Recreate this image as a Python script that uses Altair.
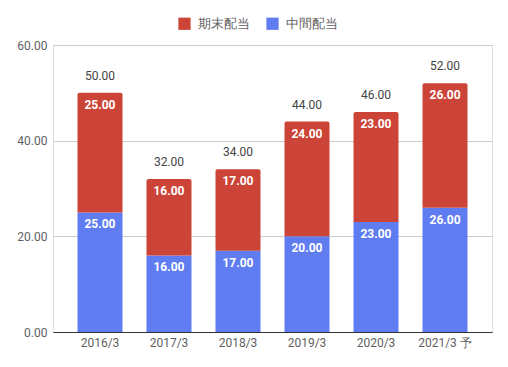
import altair as alt
import pandas as pd

years = ["2016/3", "2017/3", "2018/3", "2019/3", "2020/3", "2021/3 予"]
interim = [25.0, 16.0, 17.0, 20.0, 23.0, 26.0]   # 中間配当
final = [25.0, 16.0, 17.0, 24.0, 23.0, 26.0]     # 期末配当
total = [50.0, 32.0, 34.0, 44.0, 46.0, 52.0]

df = pd.DataFrame({"year": years, "interim": interim, "final": final, "total": total})

FONT = "Roboto"
RED = "#cc4437"
BLUE = "#5f7cf0"

x = alt.X("year:N", sort=years, title=None,
          scale=alt.Scale(paddingInner=0.348, paddingOuter=0.355),
          axis=alt.Axis(labelAngle=0, ticks=False, domain=True, domainColor="#333333",
                        grid=False,
                        labelColor="#5f5f5f", labelFontSize=12, labelFont=FONT, labelPadding=5))

yscale = alt.Scale(domain=[0, 60], nice=False)
yaxis = alt.Axis(values=[0, 20, 40, 60], format=".2f", ticks=False, domain=False,
                 labelColor="#5f5f5f", labelFontSize=12, labelFont=FONT, labelPadding=6,
                 gridColor="#cccccc")

color = alt.Scale(domain=["期末配当", "中間配当"], range=[RED, BLUE])
legend = alt.Legend(title=None, orient="none", legendX=125, legendY=-28, direction="horizontal",
                    symbolType="square", symbolSize=150, symbolStrokeWidth=0, labelFont=FONT,
                    labelFontSize=13, labelColor="#5f5f5f", columnPadding=16, labelOffset=7)

base = alt.Chart(df)

blue = base.mark_bar().transform_calculate(series="'中間配当'").encode(
    x=x,
    y=alt.Y("interim:Q", scale=yscale, axis=yaxis, title=None),
    y2=alt.Y2(datum=0),
    color=alt.Color("series:N", scale=color, legend=legend),
)
red = base.mark_bar(cornerRadiusTopLeft=2, cornerRadiusTopRight=2).transform_calculate(
    series="'期末配当'").encode(
    x=x,
    y=alt.Y("interim:Q"),
    y2=alt.Y2("total:Q"),
    color=alt.Color("series:N", scale=color, legend=legend),
)
lab_blue = base.mark_text(color="white", fontWeight="bold", fontSize=12, font=FONT,
                          baseline="middle", dy=12).encode(
    x=x, y=alt.Y("interim:Q"), text=alt.Text("interim:Q", format=".2f"))
lab_red = base.mark_text(color="white", fontWeight="bold", fontSize=12, font=FONT,
                         baseline="middle", dy=12).encode(
    x=x, y=alt.Y("total:Q"), text=alt.Text("final:Q", format=".2f"))
lab_tot = base.mark_text(color="#444444", fontSize=12, font=FONT,
                         baseline="middle", dy=-17).encode(
    x=x, y=alt.Y("total:Q"), text=alt.Text("total:Q", format=".2f"))

chart = alt.layer(blue, red, lab_blue, lab_red, lab_tot).properties(
    width=439, height=287,
    padding={"left": 45, "top": 37, "right": 5, "bottom": 20},
    autosize=alt.AutoSizeParams(type="none"),
).configure_view(strokeWidth=0, stroke="transparent").configure_axisX(grid=False).configure(font=FONT)

chart.save("out.html", embed_options={"renderer": "svg", "actions": False})
